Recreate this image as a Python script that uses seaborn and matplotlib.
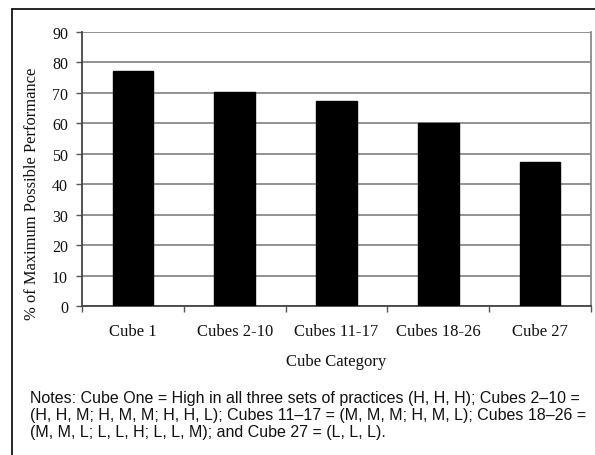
import matplotlib
matplotlib.use("Agg")
import matplotlib.pyplot as plt
import seaborn as sns
import pandas as pd
from matplotlib.lines import Line2D

categories = ["Cube 1", "Cubes 2-10", "Cubes 11-17", "Cubes 18-26", "Cube 27"]
values = [77.3, 70.2, 67.3, 60.2, 47.3]
yticks = [0, 10, 20, 30, 40, 50, 60, 70, 80, 90]

sns.set_theme(style="white")
plt.rcParams['font.family'] = ['Liberation Serif', 'DejaVu Serif']

df = pd.DataFrame({"cat": categories, "val": values})

W, H = 595, 456
fig = plt.figure(figsize=(W / 100, H / 100), dpi=100)
ax = fig.add_axes([82 / W, 1 - 307 / H, (591 - 82) / W, (307 - 33) / H])

sns.barplot(data=df, x="cat", y="val", color="black", width=0.40, ax=ax,
            saturation=1, edgecolor="black", zorder=3)

ax.set_ylim(0, 90)
ax.set_xlim(-0.5, 4.5)
ax.set_yticks(yticks)
ax.set_yticklabels([str(t) for t in yticks], fontsize=11.5, color="#111111")
ax.yaxis.grid(True, color="#8a8a8a", linewidth=1.3, zorder=0)
ax.set_axisbelow(True)

# x ticks at category boundaries, labels at centers
ax.set_xticks([i + 0.5 for i in range(-1, 5)])
ax.set_xticklabels([])
ax.set_xticks(range(5), minor=True)
ax.set_xticklabels(categories, minor=True, fontsize=12, color="#111111")
ax.tick_params(axis="x", which="minor", length=0, pad=12)
ax.tick_params(axis="x", which="major", length=4, width=1, color="#555555", direction="out", bottom=True)
ax.tick_params(axis="y", length=4, width=1, color="#555555", direction="out", left=True, pad=6)

ax.spines["top"].set_visible(False)
ax.spines["left"].set_color("#444444")
ax.spines["left"].set_linewidth(1.3)
ax.spines["bottom"].set_color("#444444")
ax.spines["bottom"].set_linewidth(1.3)
ax.spines["right"].set_color("#8a8a8a")
ax.spines["right"].set_linewidth(1.3)

ax.set_xlabel("Cube Category", fontsize=12, labelpad=10, color="#111111")
ax.set_ylabel("% of Maximum Possible Performance", fontsize=11.9, color="#111111")
ax.yaxis.set_label_coords(-0.082, 0.412)

# outer frame
fig.add_artist(Line2D([12 / W, 12 / W], [0, 1 - 10 / H], transform=fig.transFigure, color="black", lw=1.2))
fig.add_artist(Line2D([12 / W, 1], [1 - 10 / H, 1 - 10 / H], transform=fig.transFigure, color="black", lw=1.2))

note = ("Notes: Cube One = High in all three sets of practices (H, H, H); Cubes 2\u201310 =\n"
        "(H, H, M; H, M, M; H, H, L); Cubes 11\u201317 = (M, M, M; H, M, L); Cubes 18\u201326 =\n"
        "(M, M, L; L, L, H; L, L, M); and Cube 27 = (L, L, L).")
fig.text(30 / W, 1 - 391 / H, note, family=["Liberation Sans", "DejaVu Sans"], fontsize=11.5,
         va="top", ha="left", linespacing=1.15, color="#111111")

fig.savefig("out.png", dpi=100)
